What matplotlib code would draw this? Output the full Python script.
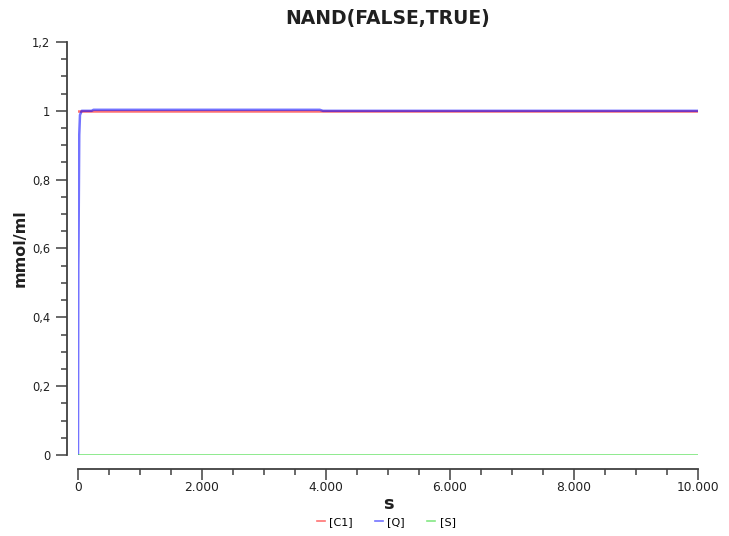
import matplotlib
matplotlib.use("Agg")
import matplotlib.pyplot as plt
from matplotlib.ticker import MultipleLocator, FuncFormatter

# Data
t_c1 = [0, 10000]
c1 = [1.0, 1.0]
t_q = [0, 5, 8, 20, 32, 60, 220, 250, 3900, 3950, 10000]
q = [0.0, 0.55, 0.6, 0.93, 0.988, 1.0, 1.0, 1.003, 1.003, 1.0, 1.0]
t_s = [0, 10000]
s = [0.0, 0.0]

title = "NAND(FALSE,TRUE)"
xlabel = "s"
ylabel = "mmol/ml"
names = ["[C1]", "[Q]", "[S]"]

fig = plt.figure(figsize=(7.29, 5.36), dpi=100)
ax = fig.add_axes([78/729, 81/536, 620/729, 413/536])

ax.plot(t_c1, c1, color=(1, 0, 0, 0.55), lw=1.8, label=names[0])
ax.plot(t_q, q, color=(0, 0, 1, 0.55), lw=1.8, label=names[1])
ax.plot(t_s, s, color=(0.2, 0.85, 0.2, 0.6), lw=2.0, label=names[2])

ax.set_xlim(0, 10000)
ax.set_ylim(0, 1.2)

for sp in ["top", "right"]:
    ax.spines[sp].set_visible(False)
ax.spines["left"].set_position(("outward", 8))
ax.spines["bottom"].set_position(("outward", 10))
for sp in ["left", "bottom"]:
    ax.spines[sp].set_color("#404040")
    ax.spines[sp].set_linewidth(1.3)

ax.xaxis.set_major_locator(MultipleLocator(2000))
ax.xaxis.set_minor_locator(MultipleLocator(500))
ax.yaxis.set_major_locator(MultipleLocator(0.2))
ax.yaxis.set_minor_locator(MultipleLocator(0.05))

def xfmt(v, pos):
    return f"{int(round(v)):,}".replace(",", ".")

def yfmt(v, pos):
    r = round(v, 1)
    if abs(r - round(r)) < 1e-9:
        return str(int(round(r)))
    return f"{r:.1f}".replace(".", ",")

ax.xaxis.set_major_formatter(FuncFormatter(xfmt))
ax.yaxis.set_major_formatter(FuncFormatter(yfmt))
ax.tick_params(which="major", length=8, width=1.1, color="#404040", labelcolor="#202020")
ax.tick_params(which="minor", length=4.5, width=1.1, color="#404040")
ax.tick_params(axis="x", which="major", pad=0.5, labelsize=8.8)
ax.tick_params(axis="y", which="major", pad=4, labelsize=8.3)

ax.set_title(title, fontsize=13.5, fontweight="bold", pad=13, color="#202020")
ax.set_xlabel(xlabel, fontsize=13, fontweight="bold", color="#202020")
ax.xaxis.set_label_coords(0.5, -0.097)
ax.set_ylabel(ylabel, fontsize=11.5, fontweight="bold", color="#202020")
ax.yaxis.set_label_coords(-0.082, 0.5)

leg = fig.legend(loc="center", bbox_to_anchor=(0.53, 0.026), ncol=3, frameon=False,
                 fontsize=8, handlelength=0.7, handletextpad=0.4, columnspacing=2.0)
for h in leg.legend_handles:
    h.set_linewidth(1.2)

fig.savefig("out.png", dpi=100)
